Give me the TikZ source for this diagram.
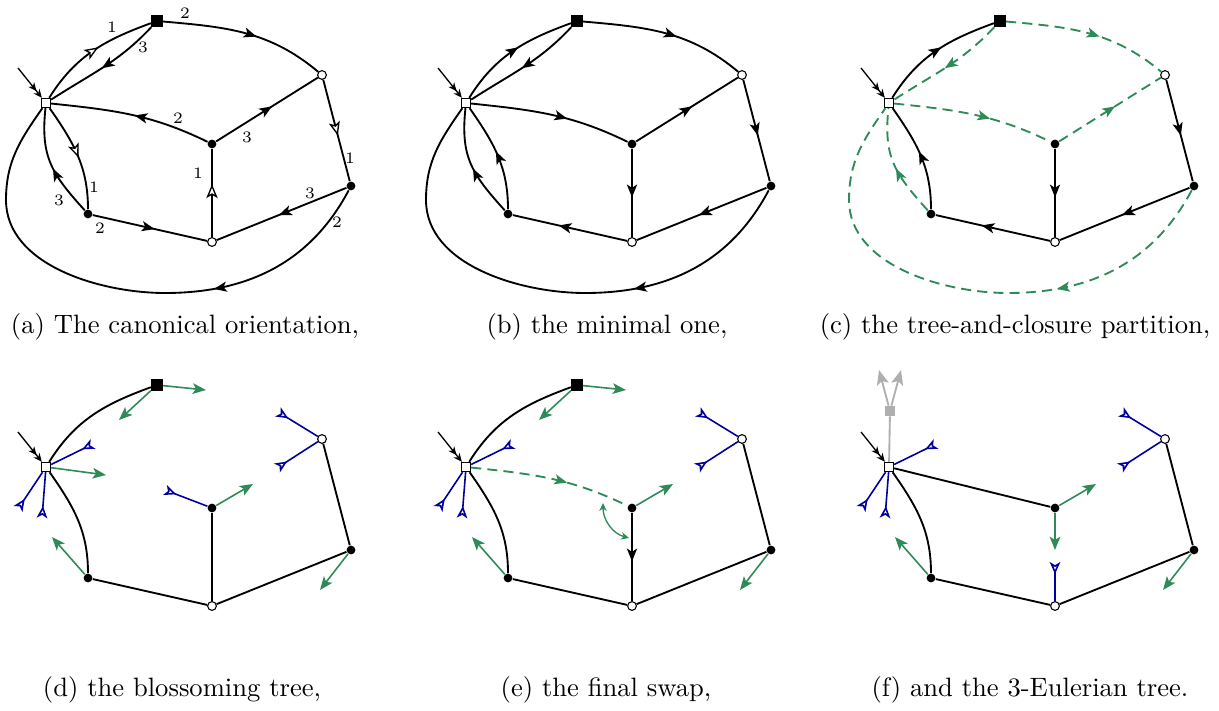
\documentclass[tikz,border=0pt]{standalone}
\usepackage{tikz}
\usetikzlibrary{
  arrows.meta,
  decorations.markings
}
\definecolor{closGreen}{RGB}{46,139,87}
\definecolor{stemBlue}{RGB}{0,0,160}
\definecolor{ghostGray}{RGB}{175,175,175}
\tikzset{
  rootVertex/.style={
    rectangle,
    draw,
    fill=white,
    line width=0.5pt,
    minimum size=3.4pt,
    inner sep=0pt
  },
  sqVertex/.style={
    rectangle,
    fill=black,
    minimum size=4.2pt,
    inner sep=0pt
  },
  blackVertex/.style={
    circle,
    fill=black,
    minimum size=3.3pt,
    inner sep=0pt
  },
  whiteVertex/.style={
    circle,
    draw,
    fill=white,
    line width=0.4pt,
    minimum size=3.3pt,
    inner sep=0pt
  },
  ghostVertex/.style={
    rectangle,
    fill=ghostGray,
    minimum size=3.6pt,
    inner sep=0pt
  },
  fullTip/.tip={Stealth[length=4.8pt, width=3.8pt, inset=1.2pt]},
  openTip/.tip={Stealth[length=5.2pt, width=4.2pt, inset=1.2pt, open, fill=white]},
  edgeLine/.style={line width=0.7pt},
  fullAt/.style={
    edgeLine,
    postaction={decorate, decoration={markings,
      mark=at position #1 with {\arrow{fullTip}}}}
  },
  openAt/.style={
    edgeLine,
    postaction={decorate, decoration={markings,
      mark=at position #1 with {\arrow[line width=0.5pt]{openTip}}}}
  },
  closAt/.style={
    color=closGreen,
    dash pattern=on 3.8pt off 2.3pt,
    fullAt=#1
  },
  greenStem/.style={
    draw=closGreen,
    line width=0.6pt,
    -{Stealth[length=5pt, width=4pt, inset=1.2pt]}
  },
  blueStem/.style={
    draw=stemBlue,
    line width=0.6pt,
    -{Stealth[length=4.5pt, width=4pt, inset=1.2pt, open, reversed]}
  },
  ghostStem/.style={
    draw=ghostGray,
    line width=0.7pt,
    -{Stealth[length=5.5pt, width=4.5pt, inset=1.2pt]}
  },
  rootArrow/.style={
    line width=0.5pt,
    -{Stealth[length=3.2pt, width=2.8pt] Stealth[length=3.2pt, width=2.8pt]}
  },
  swapArrow/.style={
    draw=closGreen,
    line width=0.5pt,
    {Stealth[length=3pt, width=2.8pt, open]}-{Stealth[length=3pt, width=2.8pt, open]}
  },
  edgeLabel/.style={font=\fontsize{6}{7}\selectfont, inner sep=0pt},
  capText/.style={font=\normalsize, inner sep=0pt}
}
\newcommand{\mapVertices}[1]{%
  \node[rootVertex]  (#1root) at (46,-103) {};
  \node[whiteVertex] (#1wt)   at (322,-75) {};
  \node[blackVertex] (#1ctr)  at (212,-144) {};
  \node[blackVertex] (#1rt)   at (351,-186) {};
  \node[whiteVertex] (#1wb)   at (212,-242) {};
  \node[blackVertex] (#1lf)   at (88,-214) {};
  \coordinate (#1in) at (18,-68);
  \draw[rootArrow] (#1in) -- (#1root);
}
\newcommand{\stemEnds}[1]{%
  \coordinate (#1sqA)   at (206,-26);
  \coordinate (#1sqB)   at (119,-56);
  \coordinate (#1rootG) at (106,-111);
  \coordinate (#1rootA) at (93,-80);
  \coordinate (#1rootB) at (18,-145);
  \coordinate (#1rootC) at (42,-154);
  \coordinate (#1ctrB)  at (165,-126);
  \coordinate (#1ctrG)  at (253,-120);
  \coordinate (#1ctrD)  at (212,-186);
  \coordinate (#1wtA)   at (278,-48);
  \coordinate (#1wtB)   at (277,-104);
  \coordinate (#1rtG)   at (320,-226);
  \coordinate (#1lfG)   at (52,-173);
  \coordinate (#1wbB)   at (212,-198);
}

\begin{document}
\begin{tikzpicture}[x=0.376pt, y=0.376pt]
  \useasboundingbox (0,0) rectangle (1219,-711);

  % (a) canonical orientation
  \begin{scope}
    \mapVertices{a}
    \node[sqVertex] (asq) at (157,-21) {};
    \coordinate (abot) at (165,-293);
    \coordinate (alft) at (6,-200);
    \draw[openAt=0.55] (aroot) to[out=58,in=200] (asq);
    \draw[fullAt=0.52] (asq) to[out=227,in=33] (aroot);
    \draw[fullAt=0.57] (asq) to[out=-5,in=140] (awt);
    \draw[fullAt=0.48] (actr) to[out=154,in=-6] (aroot);
    \draw[fullAt=0.55] (actr) -- (awt);
    \draw[openAt=0.55] (awt) -- (art);
    \draw[fullAt=0.52] (art) -- (awb);
    \draw[openAt=0.6] (awb) -- (actr);
    \draw[fullAt=0.54] (alf) -- (awb);
    \draw[openAt=0.52] (aroot) to[out=-55,in=90] (alf);
    \draw[fullAt=0.46] (alf) to[out=132,in=-96,looseness=1.15] (aroot);
    \draw[fullAt=0.33] (art) to[out=-118,in=0] (abot)
      to[out=180,in=-90,looseness=0.9] (alft)
      to[out=90,in=-125] (aroot);
    \node[edgeLabel] (la1)  at (112,-27)  {1};
    \node[edgeLabel] (la2)  at (143,-47)  {3};
    \node[edgeLabel] (la3)  at (185,-13)  {2};
    \node[edgeLabel] (la4)  at (178,-118) {2};
    \node[edgeLabel] (la5)  at (247,-137) {3};
    \node[edgeLabel] (la6)  at (350,-158) {1};
    \node[edgeLabel] (la7)  at (310,-193) {3};
    \node[edgeLabel] (la8)  at (198,-173) {1};
    \node[edgeLabel] (la9)  at (100,-228) {2};
    \node[edgeLabel] (la10) at (94,-187)  {1};
    \node[edgeLabel] (la11) at (59,-200)  {3};
    \node[edgeLabel] (la12) at (337,-222) {2};
  \end{scope}

  % (b) minimal orientation
  \begin{scope}[shift={(420,0)}]
    \mapVertices{b}
    \node[sqVertex] (bsq) at (157,-21) {};
    \coordinate (bbot) at (165,-293);
    \coordinate (blft) at (6,-200);
    \draw[fullAt=0.55] (broot) to[out=58,in=200] (bsq);
    \draw[fullAt=0.52] (bsq) to[out=227,in=33] (broot);
    \draw[fullAt=0.57] (bsq) to[out=-5,in=140] (bwt);
    \draw[fullAt=0.6] (broot) to[out=-6,in=154] (bctr);
    \draw[fullAt=0.55] (bctr) -- (bwt);
    \draw[fullAt=0.55] (bwt) -- (brt);
    \draw[fullAt=0.52] (brt) -- (bwb);
    \draw[fullAt=0.55] (bctr) -- (bwb);
    \draw[fullAt=0.6] (bwb) -- (blf);
    \draw[fullAt=0.54] (blf) to[out=90,in=-55] (broot);
    \draw[fullAt=0.46] (blf) to[out=132,in=-96,looseness=1.15] (broot);
    \draw[fullAt=0.33] (brt) to[out=-118,in=0] (bbot)
      to[out=180,in=-90,looseness=0.9] (blft)
      to[out=90,in=-125] (broot);
  \end{scope}

  % (c) tree and closure
  \begin{scope}[shift={(843,0)}]
    \mapVertices{c}
    \node[sqVertex] (csq) at (157,-21) {};
    \coordinate (cbot) at (165,-293);
    \coordinate (clft) at (6,-200);
    \draw[fullAt=0.55] (croot) to[out=58,in=200] (csq);
    \draw[closAt=0.52] (csq) to[out=227,in=33] (croot);
    \draw[closAt=0.57] (csq) to[out=-5,in=140] (cwt);
    \draw[closAt=0.6] (croot) to[out=-6,in=154] (cctr);
    \draw[closAt=0.55] (cctr) -- (cwt);
    \draw[fullAt=0.55] (cwt) -- (crt);
    \draw[fullAt=0.52] (crt) -- (cwb);
    \draw[fullAt=0.55] (cctr) -- (cwb);
    \draw[fullAt=0.6] (cwb) -- (clf);
    \draw[fullAt=0.54] (clf) to[out=90,in=-55] (croot);
    \draw[closAt=0.46] (clf) to[out=132,in=-96,looseness=1.15] (croot);
    \draw[closAt=0.33] (crt) to[out=-118,in=0] (cbot)
      to[out=180,in=-90,looseness=0.9] (clft)
      to[out=90,in=-125] (croot);
  \end{scope}

  % (d) blossoming tree
  \begin{scope}[shift={(0,-364)}]
    \mapVertices{d}
    \stemEnds{d}
    \node[sqVertex] (dsq) at (157,-21) {};
    \draw[edgeLine] (droot) to[out=58,in=200] (dsq);
    \draw[edgeLine] (dwt) -- (drt);
    \draw[edgeLine] (drt) -- (dwb);
    \draw[edgeLine] (dctr) -- (dwb);
    \draw[edgeLine] (dwb) -- (dlf);
    \draw[edgeLine] (droot) to[out=-55,in=90] (dlf);
    \draw[greenStem] (dsq) -- (dsqA);
    \draw[greenStem] (dsq) -- (dsqB);
    \draw[greenStem] (droot) -- (drootG);
    \draw[greenStem] (dctr) -- (dctrG);
    \draw[greenStem] (drt) -- (drtG);
    \draw[greenStem] (dlf) -- (dlfG);
    \draw[blueStem] (droot) -- (drootA);
    \draw[blueStem] (droot) -- (drootB);
    \draw[blueStem] (droot) -- (drootC);
    \draw[blueStem] (dctr) -- (dctrB);
    \draw[blueStem] (dwt) -- (dwtA);
    \draw[blueStem] (dwt) -- (dwtB);
  \end{scope}

  % (e) final swap
  \begin{scope}[shift={(420,-364)}]
    \mapVertices{e}
    \stemEnds{e}
    \node[sqVertex] (esq) at (157,-21) {};
    \coordinate (eswA) at (183,-139);
    \coordinate (eswB) at (209,-174);
    \draw[edgeLine] (eroot) to[out=58,in=200] (esq);
    \draw[edgeLine] (ewt) -- (ert);
    \draw[edgeLine] (ert) -- (ewb);
    \draw[fullAt=0.55] (ectr) -- (ewb);
    \draw[edgeLine] (ewb) -- (elf);
    \draw[edgeLine] (eroot) to[out=-55,in=90] (elf);
    \draw[closAt=0.6] (eroot) to[out=-6,in=154] (ectr);
    \draw[swapArrow] (eswA) to[out=-90,in=165] (eswB);
    \draw[greenStem] (esq) -- (esqA);
    \draw[greenStem] (esq) -- (esqB);
    \draw[greenStem] (ectr) -- (ectrG);
    \draw[greenStem] (ert) -- (ertG);
    \draw[greenStem] (elf) -- (elfG);
    \draw[blueStem] (eroot) -- (erootA);
    \draw[blueStem] (eroot) -- (erootB);
    \draw[blueStem] (eroot) -- (erootC);
    \draw[blueStem] (ewt) -- (ewtA);
    \draw[blueStem] (ewt) -- (ewtB);
  \end{scope}

  % (f) 3-Eulerian tree
  \begin{scope}[shift={(843,-364)}]
    \mapVertices{f}
    \stemEnds{f}
    \node[ghostVertex] (fghost) at (47,-47) {};
    \coordinate (fgA) at (36,-6);
    \coordinate (fgB) at (58,-6);
    \draw[draw=ghostGray, line width=0.7pt] (froot) -- (fghost);
    \draw[ghostStem] (fghost) -- (fgA);
    \draw[ghostStem] (fghost) -- (fgB);
    \draw[edgeLine] (froot) -- (fctr);
    \draw[edgeLine] (froot) to[out=-55,in=90] (flf);
    \draw[edgeLine] (fwt) -- (frt);
    \draw[edgeLine] (frt) -- (fwb);
    \draw[edgeLine] (fwb) -- (flf);
    \draw[greenStem] (fctr) -- (fctrG);
    \draw[greenStem] (fctr) -- (fctrD);
    \draw[greenStem] (frt) -- (frtG);
    \draw[greenStem] (flf) -- (flfG);
    \draw[blueStem] (froot) -- (frootA);
    \draw[blueStem] (froot) -- (frootB);
    \draw[blueStem] (froot) -- (frootC);
    \draw[blueStem] (fwt) -- (fwtA);
    \draw[blueStem] (fwt) -- (fwtB);
    \draw[blueStem] (fwb) -- (fwbB);
  \end{scope}

  \node[capText] (capA) at (185,-327)  {(a) The canonical orientation,};
  \node[capText] (capB) at (607,-327)  {(b) the minimal one,};
  \node[capText] (capC) at (1015,-327) {(c) the tree-and-closure partition,};
  \node[capText] (capD) at (182,-690)  {(d) the blossoming tree,};
  \node[capText] (capE) at (606,-690)  {(e) the final swap,};
  \node[capText] (capF) at (1030,-690) {(f) and the 3-Eulerian tree.};
\end{tikzpicture}
\end{document}
